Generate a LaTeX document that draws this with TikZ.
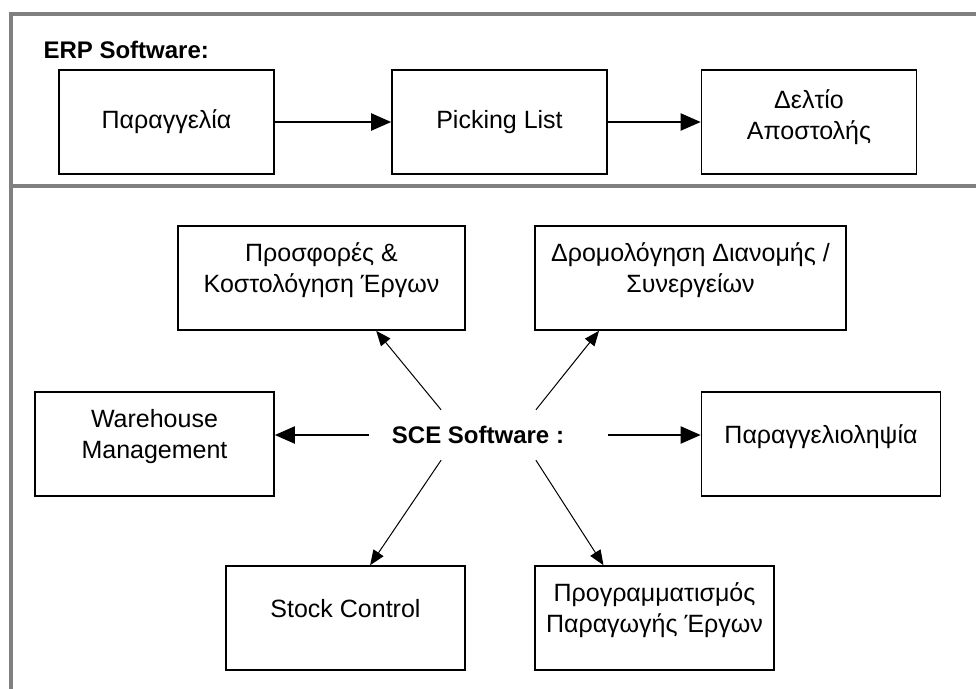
\documentclass[tikz,border=0pt]{standalone}
\usepackage{fontspec}
\setmainfont{Liberation Sans}
\usetikzlibrary{arrows.meta}

\begin{document}
\begin{tikzpicture}[x=1pt,y=-1pt,
  every node/.style={font=\fontsize{25}{31}\selectfont},
  every text node part/.style={align=center},
  box/.style={draw,line width=1.6pt,minimum height=104pt,inner sep=0pt},
  sce box/.style={box,text depth=20pt},
  small box/.style={sce box,minimum width=239pt},
  link/.style={-{Triangle[length=20pt,width=17pt]},line width=2pt},
  thin link/.style={-{Triangle[length=15pt,width=12pt]},line width=1pt},
  frame/.style={draw=gray,line width=4pt}]
\useasboundingbox (0,0) rectangle (976,688);
\clip (0,0) rectangle (976,688);
% outer frame, cut off on the right and at the bottom
\draw[frame] (10.5,700) -- (10.5,13.5) -- (990,13.5);
\draw[frame] (10.5,185.5) -- (990,185.5);
% ERP part
\node[anchor=west,font=\bfseries\fontsize{24}{31}\selectfont] (erp) at (40,50) {ERP Software:};
\node[box,minimum width=215pt] (order) at (166.5,122) {Παραγγελία};
\node[box,minimum width=215pt] (picking) at (499.5,122) {Picking List};
\node[box,minimum width=215pt,text depth=14pt] (delivery) at (809,122) {Δελτίο\\Αποστολής};
\draw[link] (order) -- (picking);
\draw[link] (picking) -- (delivery);
% SCE part
\node[minimum width=238pt,minimum height=50pt,font=\bfseries\fontsize{24}{31}\selectfont] (sce) at (488.5,435) {SCE Software :\hspace*{21pt}};
\node[sce box,minimum width=287pt] (offers) at (321.5,278) {Προσφορές \&\\Κοστολόγηση Έργων};
\node[sce box,minimum width=311pt] (routing) at (690.5,278) {Δρομολόγηση Διανομής /\\Συνεργείων};
\node[small box] (warehouse) at (154.5,444) {Warehouse\\Management};
\node[small box] (ordering) at (821,444) {Παραγγελιοληψία};
\node[small box] (stock) at (345.5,618) {Stock Control};
\node[small box] (planning) at (654.5,618) {Προγραμματισμός\\Παραγωγής Έργων};
\draw[link] (sce.west) -- (sce.west -| warehouse.east);
\draw[link] (sce.east) -- (sce.east -| ordering.west);
\draw[thin link] (sce.152) -- (offers.-44);
\draw[thin link] (sce.28) -- (routing.-150);
\draw[thin link] (sce.208) -- (stock.65);
\draw[thin link] (sce.-28) -- (planning.134);
\end{tikzpicture}
\end{document}
